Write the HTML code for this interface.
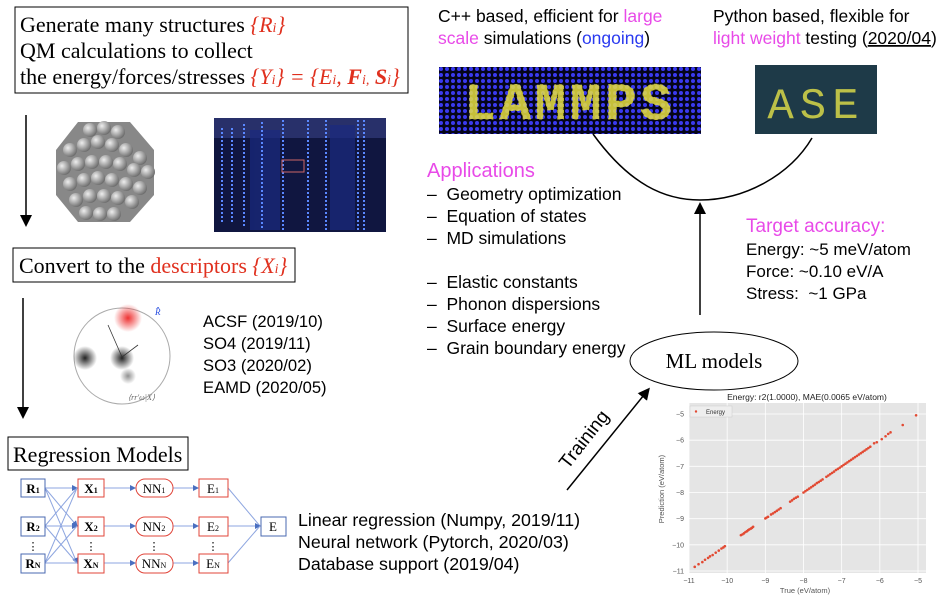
<!DOCTYPE html>
<html><head><meta charset="utf-8">
<style>
body{margin:0;width:950px;height:604px;background:#fff;overflow:hidden;position:relative;font-family:"Liberation Sans",sans-serif;}
svg{position:absolute;left:0;top:0;}
.serif{font-family:"Liberation Serif",serif;}
</style></head>
<body>
<svg width="950" height="604" viewBox="0 0 950 604">
<defs>
<marker id="ah" markerWidth="8" markerHeight="8" refX="6" refY="4" orient="auto"><path d="M0,0 L8,4 L0,8 z" fill="#000"/></marker>
<marker id="bh" markerWidth="6" markerHeight="6" refX="5" refY="3" orient="auto"><path d="M0,0 L6,3 L0,6 z" fill="#4a6fc0"/></marker>
<pattern id="dots" width="6" height="6" patternUnits="userSpaceOnUse"><rect width="6" height="6" fill="#05051a"/><circle cx="3" cy="3" r="2" fill="#3a3af0"/></pattern>
<radialGradient id="sph" cx="0.35" cy="0.35" r="0.7"><stop offset="0" stop-color="#eee"/><stop offset="1" stop-color="#6a6a6a"/></radialGradient>
<radialGradient id="redb"><stop offset="0" stop-color="#e33"/><stop offset="1" stop-color="#e33" stop-opacity="0"/></radialGradient>
<radialGradient id="blkb"><stop offset="0" stop-color="#222"/><stop offset="1" stop-color="#222" stop-opacity="0"/></radialGradient>
</defs>

<g>
<rect x="15" y="7" width="393" height="86" fill="#fff" stroke="#000" stroke-width="1"/>
<text class="serif" x="20" y="32" font-size="22">Generate many structures <tspan fill="#e0301e" font-style="italic">{R<tspan font-size="14">i</tspan>}</tspan></text>
<text class="serif" x="20" y="58" font-size="22">QM calculations to collect</text>
<text class="serif" x="20" y="84" font-size="22">the energy/forces/stresses <tspan fill="#e0301e" font-style="italic">{Y<tspan font-size="14">i</tspan>} = {E<tspan font-size="14">i</tspan>, <tspan font-weight="bold">F</tspan><tspan font-size="14">i,</tspan> <tspan font-weight="bold">S</tspan><tspan font-size="14">i</tspan>}</tspan></text>
</g>
<line x1="26" y1="115" x2="26" y2="224" stroke="#000" stroke-width="1.5" marker-end="url(#ah)"/>

<g>
<polygon points="78,122 130,122 154,150 154,195 130,222 78,222 56,195 56,150" fill="#888"/>
<g fill="url(#sph)">
<circle cx="70" cy="150" r="7"/><circle cx="84" cy="145" r="7"/><circle cx="98" cy="142" r="7"/><circle cx="112" cy="145" r="7"/><circle cx="126" cy="150" r="7"/><circle cx="140" cy="158" r="7"/>
<circle cx="64" cy="168" r="7"/><circle cx="78" cy="164" r="7"/><circle cx="92" cy="162" r="7"/><circle cx="106" cy="162" r="7"/><circle cx="120" cy="164" r="7"/><circle cx="134" cy="170" r="7"/><circle cx="148" cy="172" r="7"/>
<circle cx="70" cy="184" r="7"/><circle cx="84" cy="180" r="7"/><circle cx="98" cy="178" r="7"/><circle cx="112" cy="180" r="7"/><circle cx="126" cy="184" r="7"/><circle cx="140" cy="188" r="7"/>
<circle cx="76" cy="200" r="7"/><circle cx="90" cy="196" r="7"/><circle cx="104" cy="196" r="7"/><circle cx="118" cy="198" r="7"/><circle cx="132" cy="202" r="7"/>
<circle cx="86" cy="213" r="7"/><circle cx="100" cy="214" r="7"/><circle cx="114" cy="214" r="7"/><circle cx="104" cy="128" r="7"/><circle cx="90" cy="130" r="7"/><circle cx="118" cy="132" r="7"/>
</g></g>

<g>
<rect x="214" y="118" width="172" height="114" fill="#101640"/>
<rect x="214" y="118" width="172" height="20" fill="#28306a"/>
<g fill="#1a2a80" opacity="0.7"><rect x="250" y="130" width="30" height="100"/><rect x="330" y="125" width="25" height="105"/></g>
<g stroke="#5a88ff" stroke-width="2" stroke-dasharray="2 2">
<line x1="222" y1="128" x2="222" y2="222"/><line x1="232" y1="128" x2="232" y2="224"/><line x1="244" y1="124" x2="244" y2="226"/><line x1="262" y1="122" x2="262" y2="228"/><line x1="283" y1="120" x2="283" y2="230"/><line x1="308" y1="120" x2="308" y2="230"/><line x1="326" y1="120" x2="326" y2="230"/><line x1="358" y1="120" x2="358" y2="230"/><line x1="364" y1="120" x2="364" y2="230"/>
</g>
<rect x="282" y="160" width="22" height="12" fill="none" stroke="#c66" stroke-width="1"/>
</g>

<g>
<rect x="13" y="248" width="282" height="34" fill="#fff" stroke="#000"/>
<text class="serif" x="19" y="273" font-size="22">Convert to the <tspan fill="#e0301e">descriptors <tspan font-style="italic">{X<tspan font-size="14">i</tspan>}</tspan></tspan></text>
</g>
<line x1="23" y1="298" x2="23" y2="416" stroke="#000" stroke-width="1.5" marker-end="url(#ah)"/>

<g>
<circle cx="122" cy="356" r="48" fill="#fff" stroke="#aaa"/>
<circle cx="128" cy="318" r="14" fill="url(#redb)"/>
<circle cx="85" cy="358" r="12" fill="url(#blkb)"/>
<circle cx="122" cy="358" r="12" fill="url(#blkb)"/>
<circle cx="128" cy="376" r="8" fill="url(#blkb)" opacity="0.5"/>
<line x1="108" y1="325" x2="122" y2="357" stroke="#333" stroke-width="0.8"/><line x1="122" y1="357" x2="138" y2="345" stroke="#333" stroke-width="0.8"/>
<text x="155" y="315" font-size="9" fill="#2a4fe0" class="serif" font-style="italic">R̂</text>
<text x="128" y="400" font-size="8" fill="#666" class="serif" font-style="italic">⟨rr′ω|X⟩</text>
</g>
<g font-size="16.6">
<text x="203" y="327">ACSF (2019/10)</text><text x="203" y="349">SO4 (2019/11)</text><text x="203" y="371">SO3 (2020/02)</text><text x="203" y="393">EAMD (2020/05)</text>
</g>

<g>
<rect x="8" y="437" width="180" height="33" fill="#fff" stroke="#000"/>
<text class="serif" x="13" y="462" font-size="22">Regression Models</text>
</g>
<g>
<g stroke="#8ea6e0" stroke-width="1" fill="none">
<line x1="45" y1="488" x2="77" y2="488" marker-end="url(#bh)"/><line x1="45" y1="488" x2="77" y2="526" marker-end="url(#bh)"/><line x1="45" y1="488" x2="77" y2="563" marker-end="url(#bh)"/>
<line x1="45" y1="526" x2="77" y2="488"/><line x1="45" y1="526" x2="77" y2="526" marker-end="url(#bh)"/><line x1="45" y1="526" x2="77" y2="563"/>
<line x1="45" y1="563" x2="77" y2="488"/><line x1="45" y1="563" x2="77" y2="526"/><line x1="45" y1="563" x2="77" y2="563"/>
<line x1="104" y1="488" x2="135" y2="488" marker-end="url(#bh)"/><line x1="104" y1="526" x2="135" y2="526" marker-end="url(#bh)"/><line x1="104" y1="563" x2="135" y2="563" marker-end="url(#bh)"/>
<line x1="173" y1="488" x2="198" y2="488" marker-end="url(#bh)"/><line x1="173" y1="526" x2="198" y2="526" marker-end="url(#bh)"/><line x1="173" y1="563" x2="198" y2="563" marker-end="url(#bh)"/>
<line x1="228" y1="488" x2="260" y2="526"/><line x1="228" y1="526" x2="260" y2="526" marker-end="url(#bh)"/><line x1="228" y1="563" x2="260" y2="526"/>
</g>
<g class="serif" font-size="13" text-anchor="middle">
<rect x="21" y="479" width="24" height="18" fill="#fff" stroke="#4a68b0"/><text x="33" y="493" font-weight="bold">R<tspan font-size="8">1</tspan></text>
<rect x="21" y="517" width="24" height="19" fill="#fff" stroke="#4a68b0"/><text x="33" y="531" font-weight="bold">R<tspan font-size="8">2</tspan></text>
<rect x="21" y="554" width="24" height="19" fill="#fff" stroke="#4a68b0"/><text x="33" y="568" font-weight="bold">R<tspan font-size="8">N</tspan></text>
<rect x="78" y="479" width="26" height="18" fill="#fff" stroke="#e0453a"/><text x="91" y="493" font-weight="bold">X<tspan font-size="8">1</tspan></text>
<rect x="78" y="517" width="26" height="19" fill="#fff" stroke="#e0453a"/><text x="91" y="531" font-weight="bold">X<tspan font-size="8">2</tspan></text>
<rect x="78" y="554" width="26" height="19" fill="#fff" stroke="#e0453a"/><text x="91" y="568" font-weight="bold">X<tspan font-size="8">N</tspan></text>
<rect x="136" y="479" width="37" height="18" rx="9" fill="#fff" stroke="#e0453a"/><text x="154" y="493">NN<tspan font-size="8">1</tspan></text>
<rect x="136" y="517" width="37" height="19" rx="9" fill="#fff" stroke="#e0453a"/><text x="154" y="531">NN<tspan font-size="8">2</tspan></text>
<rect x="136" y="554" width="37" height="19" rx="9" fill="#fff" stroke="#e0453a"/><text x="154" y="568">NN<tspan font-size="8">N</tspan></text>
<rect x="199" y="479" width="29" height="18" fill="#fff" stroke="#e0453a"/><text x="213" y="493">E<tspan font-size="8">1</tspan></text>
<rect x="199" y="517" width="29" height="19" fill="#fff" stroke="#e0453a"/><text x="213" y="531">E<tspan font-size="8">2</tspan></text>
<rect x="199" y="554" width="29" height="19" fill="#fff" stroke="#e0453a"/><text x="213" y="568">E<tspan font-size="8">N</tspan></text>
<rect x="261" y="517" width="25" height="19" fill="#fff" stroke="#4a68b0"/><text x="273" y="531">E</text>
<text x="33" y="550" font-size="11">⋮</text><text x="91" y="550" font-size="11">⋮</text><text x="154" y="550" font-size="11">⋮</text><text x="213" y="550" font-size="11">⋮</text>
</g></g>
<g font-size="17.8">
<text x="298" y="526">Linear regression (Numpy, 2019/11)</text><text x="298" y="548">Neural network (Pytorch, 2020/03)</text><text x="298" y="570">Database support (2019/04)</text>
</g>

<g font-size="17.5">
<text x="438" y="22">C++ based, efficient for <tspan fill="#e84ae8">large</tspan></text>
<text x="438" y="44"><tspan fill="#e84ae8">scale</tspan> simulations (<tspan fill="#2a3af0">ongoing</tspan>)</text>
</g>
<g font-size="17.5">
<text x="713" y="22">Python based, flexible for</text>
<text x="713" y="44"><tspan fill="#e84ae8">light weight</tspan> testing (<tspan text-decoration="underline">2020/04</tspan>)</text>
</g>
<g>
<rect x="439" y="67" width="262" height="67" fill="url(#dots)"/>
<text x="570" y="119" text-anchor="middle" font-size="52" font-weight="bold" fill="#e8e040" font-family="Liberation Mono,monospace" letter-spacing="4" stroke="#e8e040" stroke-width="1" stroke-dasharray="3 3" opacity="0.85">LAMMPS</text>
</g>
<g>
<rect x="755" y="65" width="122" height="69" fill="#1e3a48"/>
<text x="816" y="118" text-anchor="middle" font-size="44" fill="#d8d848" font-family="Liberation Mono,monospace" letter-spacing="6" opacity="0.85">ASE</text>
</g>
<path d="M593,134 C630,185 665,200 700,200 C745,200 790,175 812,138" fill="none" stroke="#000" stroke-width="1.5"/>
<line x1="700" y1="315" x2="700" y2="205" stroke="#000" stroke-width="1.5" marker-end="url(#ah)"/>

<g font-size="17.5">
<text x="427" y="177" font-size="20" fill="#e84ae8">Applications</text>
<text x="427" y="200">–&#160;&#160;Geometry optimization</text>
<text x="427" y="222">–&#160;&#160;Equation of states</text>
<text x="427" y="244">–&#160;&#160;MD simulations</text>
<text x="427" y="288">–&#160;&#160;Elastic constants</text>
<text x="427" y="310">–&#160;&#160;Phonon dispersions</text>
<text x="427" y="332">–&#160;&#160;Surface energy</text>
<text x="427" y="354">–&#160;&#160;Grain boundary energy</text>
</g>
<g font-size="17">
<text x="746" y="232" font-size="19" fill="#e84ae8">Target accuracy:</text>
<text x="746" y="255">Energy: ~5 meV/atom</text>
<text x="746" y="277">Force: ~0.10 eV/A</text>
<text x="746" y="299">Stress:&#160; ~1 GPa</text>
</g>
<g>
<ellipse cx="714" cy="361" rx="84" ry="29" fill="#fff" stroke="#000"/>
<text class="serif" x="714" y="368" text-anchor="middle" font-size="21">ML models</text>
</g>
<line x1="567" y1="490" x2="648" y2="390" stroke="#000" stroke-width="1.5" marker-end="url(#ah)"/>
<text x="0" y="0" font-size="19" transform="translate(568,470) rotate(-52)">Training</text>

<g id="chart"></g>
</svg>
<script>
const trueVals=[-10.85,-10.75,-10.65,-10.58,-10.5,-10.45,-10.38,-10.3,-10.22,-10.15,-10.1,-10.06,-9.64,-9.6,-9.56,-9.52,-9.48,-9.45,-9.42,-9.38,-9.35,-9.32,-9.0,-8.97,-8.93,-8.85,-8.8,-8.75,-8.7,-8.65,-8.6,-8.35,-8.3,-8.25,-8.2,-8.15,-8.0,-7.95,-7.9,-7.85,-7.8,-7.75,-7.7,-7.65,-7.6,-7.55,-7.5,-7.4,-7.35,-7.3,-7.25,-7.2,-7.15,-7.1,-7.05,-7.0,-6.95,-6.9,-6.85,-6.8,-6.75,-6.7,-6.65,-6.6,-6.55,-6.5,-6.45,-6.4,-6.35,-6.3,-6.25,-6.15,-6.08,-5.95,-5.85,-5.78,-5.72,-5.4,-5.05];
const predVals=[-10.84,-10.74,-10.66,-10.57,-10.5,-10.44,-10.39,-10.3,-10.22,-10.14,-10.1,-10.05,-9.63,-9.6,-9.56,-9.51,-9.48,-9.44,-9.41,-9.38,-9.35,-9.31,-8.99,-8.96,-8.93,-8.84,-8.8,-8.75,-8.7,-8.65,-8.6,-8.35,-8.3,-8.24,-8.2,-8.16,-8.0,-7.95,-7.9,-7.85,-7.8,-7.75,-7.7,-7.64,-7.6,-7.55,-7.5,-7.4,-7.35,-7.3,-7.25,-7.2,-7.14,-7.1,-7.05,-7.0,-6.95,-6.9,-6.85,-6.8,-6.75,-6.7,-6.65,-6.6,-6.55,-6.5,-6.45,-6.4,-6.35,-6.3,-6.25,-6.12,-6.08,-5.96,-5.85,-5.76,-5.7,-5.42,-5.05];
const xTicks=[-11,-10,-9,-8,-7,-6,-5];
const yTicks=[-11,-10,-9,-8,-7,-6,-5];
const NS='http://www.w3.org/2000/svg';
const g=document.getElementById('chart');
const X=v=>689+(v+11)*(918-689)/6;
const Y=v=>414+(-5-v)*(571-414)/6;
function mk(t,a,p){const e=document.createElementNS(NS,t);for(const k in a)e.setAttribute(k,a[k]);(p||g).appendChild(e);return e;}
const bg=mk('rect',{x:689,y:403,width:237,height:170,fill:'#e5e5e5'});


xTicks.forEach(t=>{
  const l=mk('line',{x1:X(t),x2:X(t),y1:403,y2:573,stroke:'#fff','stroke-width':0.8});
  
  
  const tx=mk('text',{x:X(t),y:583,'font-size':7,fill:'#555','text-anchor':'middle'});
  tx.textContent='\u2212'+Math.abs(t);
  
  
});
yTicks.forEach(t=>{
  const l=mk('line',{x1:689,x2:926,y1:Y(t),y2:Y(t),stroke:'#fff','stroke-width':0.8});
  
  
  const tx=mk('text',{x:684,y:Y(t)+2.5,'font-size':7,fill:'#555','text-anchor':'end'});
  tx.textContent='\u2212'+Math.abs(t);
  
  
});
trueVals.forEach((v,i)=>{
  const c=mk('circle',{cx:X(v),cy:Y(predVals[i]),r:1.3,fill:'#e24a33'});
  
  
});
const tt=mk('text',{x:807,y:400,'font-size':8.5,fill:'#222','text-anchor':'middle'});
tt.textContent='Energy: r2(1.0000), MAE(0.0065 eV/atom)';


const xt=mk('text',{x:805,y:593,'font-size':7.5,fill:'#555','text-anchor':'middle'});
xt.textContent='True (eV/atom)';


const yt=mk('text',{x:0,y:0,'font-size':7.5,fill:'#555','text-anchor':'middle',transform:'translate(664,489) rotate(-90)'});
yt.textContent='Prediction (eV/atom)';


const lg=mk('rect',{x:690,y:406,width:42,height:11,fill:'#eee',stroke:'#ccc','stroke-width':0.5});


mk('circle',{cx:696,cy:411.5,r:1.2,fill:'#e24a33'});
const lt=mk('text',{x:706,y:414,'font-size':6,fill:'#333'});
lt.textContent='Energy';


</script>
</body></html>
